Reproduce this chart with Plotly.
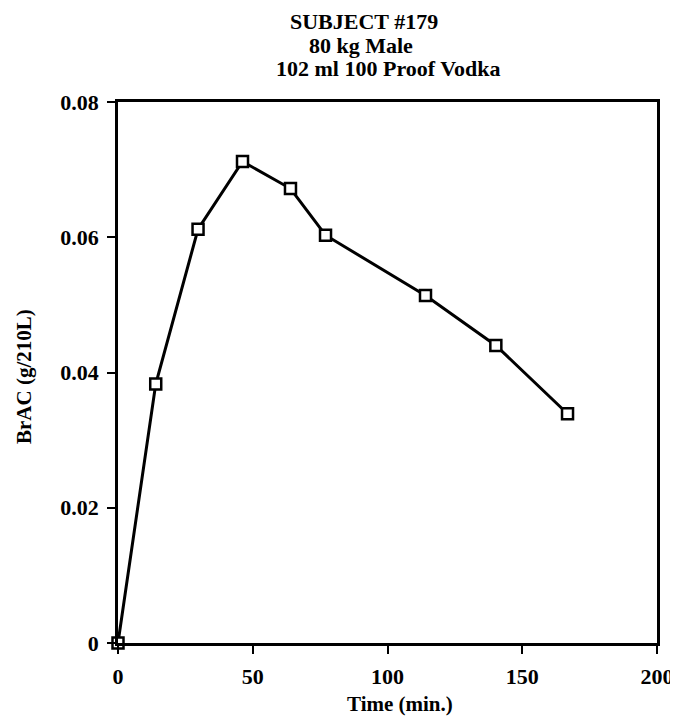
import plotly.graph_objects as go

time_min = [0, 14.0, 29.7, 46.2, 64.0, 77.0, 114.1, 140.2, 166.8]
brac = [0.0, 0.0383, 0.0612, 0.0712, 0.0672, 0.0603, 0.0514, 0.0440, 0.0339]

x_ticks = [0, 50, 100, 150, 200]
y_ticks = [0, 0.02, 0.04, 0.06, 0.08]
y_tick_labels = ["0", "0.02", "0.04", "0.06", "0.08"]

title_lines = ["SUBJECT #179", "80 kg Male", "102 ml 100 Proof Vodka"]
x_title = "Time (min.)"
y_title = "BrAC (g/210L)"

FONT = "Liberation Serif"
FS = 22

# page body has an 8px default margin, so the figure is shifted by 8px;
# keep the figure small enough that no scrollbar appears
OFF = 8
L, R, T, B = 118, 657, 102, 643  # target plot-area edges in the screenshot
W, H = 678 - OFF, 727 - 2 * OFF

fig = go.Figure()
fig.add_trace(go.Scatter(
    x=time_min, y=brac, mode="lines+markers",
    line=dict(color="black", width=3),
    marker=dict(symbol="square", size=11, color="white",
                line=dict(color="black", width=2.5)),
    cliponaxis=False, showlegend=False,
))

axis_common = dict(showgrid=False, zeroline=False, showline=True, linecolor="black",
                   linewidth=2.5, mirror=True, ticks="outside", ticklen=8, tickwidth=2,
                   tickcolor="black", automargin=False, ticklabelstandoff=4,
                   tickfont=dict(size=FS, family=FONT, weight="bold"))

fig.update_layout(
    width=W, height=H,
    margin=dict(l=L - OFF, r=W - (R - OFF), t=T - OFF, b=H - (B - OFF)),
    paper_bgcolor="white", plot_bgcolor="white",
    font=dict(family=FONT, size=FS, color="black", weight="bold"),
    xaxis=dict(range=[0, 200], tickvals=x_ticks, **axis_common),
    yaxis=dict(range=[0, 0.08], tickvals=y_ticks, ticktext=y_tick_labels, **axis_common),
)

def px(xp):
    return (xp - L) / (R - L)

def py(yp):
    return (B - yp) / (B - T)

title_x = [364, 361, 388]
title_y = [22, 45, 68]
for txt, xp, yp in zip(title_lines, title_x, title_y):
    fig.add_annotation(text=txt, xref="paper", yref="paper", x=px(xp), y=py(yp),
                       showarrow=False, xanchor="center", yanchor="middle",
                       font=dict(size=FS, family=FONT, weight="bold"))

fig.add_annotation(text=x_title, xref="paper", yref="paper", x=px(400), y=py(704),
                   showarrow=False, xanchor="center", yanchor="middle",
                   font=dict(size=FS - 1, family=FONT, weight="bold"))
fig.add_annotation(text=y_title, xref="paper", yref="paper", x=px(24), y=py(377),
                   showarrow=False, xanchor="center", yanchor="middle", textangle=-90,
                   font=dict(size=FS - 1, family=FONT, weight="bold"))

fig.write_html("out.html")
